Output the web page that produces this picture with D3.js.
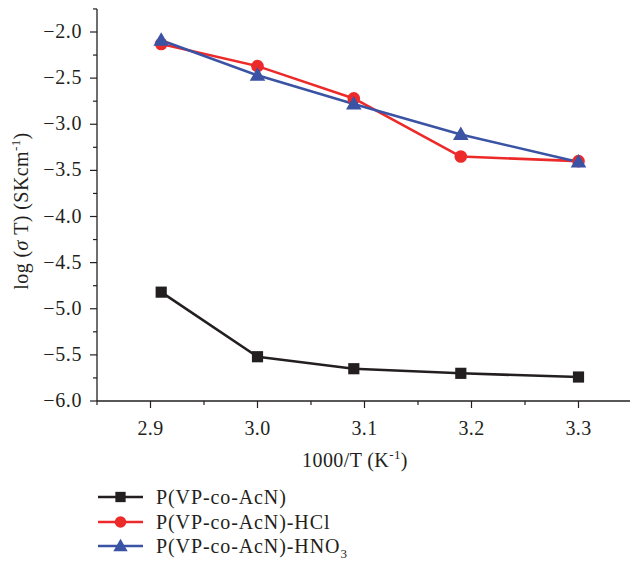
<!DOCTYPE html>
<html><head><meta charset="utf-8">
<script src="https://cdn.jsdelivr.net/npm/d3@7"></script>
<style>body{margin:0;background:#fff}svg{display:block}text{font-family:"Liberation Serif","Times New Roman",serif;fill:#231f20}</style>
</head><body><svg id="c" width="630" height="571"></svg>
<script>
const xValues = [2.91, 3.0, 3.09, 3.19, 3.3];
const pure = [-4.82, -5.52, -5.65, -5.70, -5.74];
const hcl = [-2.13, -2.37, -2.72, -3.35, -3.40];
const hno3 = [-2.09, -2.47, -2.78, -3.11, -3.41];
const xTicks = [2.9, 3.0, 3.1, 3.2, 3.3];
const yTicks = [-2.0, -2.5, -3.0, -3.5, -4.0, -4.5, -5.0, -5.5, -6.0];
const seriesNames = ["P(VP-co-AcN)", "P(VP-co-AcN)-HCl", "P(VP-co-AcN)-HNO"];
const colors = ["#231f20", "#ed2a2a", "#3a53a4"];
const symbols = [d3.symbolSquare, d3.symbolCircle, d3.symbolTriangle];
const symSizes = [125, 125, 105];

const FS = 20;
const svg = d3.select("#c");
const x = d3.scaleLinear().domain([2.85, 3.35]).range([97, 632]);
const y = d3.scaleLinear().domain([-6.0, -2.0]).range([401, 32]);

// axes
const gx = svg.append("g").attr("transform", "translate(0,401)");
gx.append("line").attr("x1", 97).attr("x2", 632).attr("stroke", "#231f20").attr("stroke-width", 1.3);
const minorX = d3.range(2.85, 3.351, 0.05).filter(v => Math.abs(Math.round(v*10)/10 - v) > 1e-6);
gx.selectAll(".mx").data(minorX).enter().append("line")
  .attr("x1", d => x(d)).attr("x2", d => x(d)).attr("y1", 0).attr("y2", 4)
  .attr("stroke", "#231f20").attr("stroke-width", 1.2);
gx.selectAll(".Mx").data(xTicks).enter().append("line")
  .attr("x1", d => x(d)).attr("x2", d => x(d)).attr("y1", 0).attr("y2", 7)
  .attr("stroke", "#231f20").attr("stroke-width", 1.2);
gx.selectAll(".tx").data(xTicks).enter().append("text")
  .attr("x", d => x(d)).attr("y", 34).attr("text-anchor", "middle")
  .attr("font-size", FS).attr("letter-spacing", 0.4).text(d => d.toFixed(1));

const gy = svg.append("g");
gy.append("line").attr("x1", 97).attr("x2", 97).attr("y1", 9).attr("y2", 401).attr("stroke", "#231f20").attr("stroke-width", 1.3);
const minorY = d3.range(-5.75, -1.7, 0.5);
gy.selectAll(".my").data(minorY).enter().append("line")
  .attr("x1", 93).attr("x2", 97).attr("y1", d => y(d)).attr("y2", d => y(d))
  .attr("stroke", "#231f20").attr("stroke-width", 1.2);
gy.selectAll(".My").data(yTicks).enter().append("line")
  .attr("x1", 90).attr("x2", 97).attr("y1", d => y(d)).attr("y2", d => y(d))
  .attr("stroke", "#231f20").attr("stroke-width", 1.2);
gy.selectAll(".ty").data(yTicks).enter().append("text")
  .attr("x", 82).attr("y", d => y(d) + 6).attr("text-anchor", "end")
  .attr("font-size", FS).attr("letter-spacing", 0.6).text(d => "\u2212" + Math.abs(d).toFixed(1));

// axis titles
const yl = svg.append("text").attr("transform", "translate(28,211) rotate(-90)")
  .attr("text-anchor", "middle").attr("font-size", FS).attr("letter-spacing", 0.4);
yl.append("tspan").text("log (");
yl.append("tspan").attr("font-style", "italic").text("σ");
yl.append("tspan").text(" T) (SKcm");
yl.append("tspan").attr("font-size", 13).attr("dy", -8).text("-1");
yl.append("tspan").attr("dy", 8).text(")");

const xl = svg.append("text").attr("x", 355).attr("y", 467).attr("text-anchor", "middle").attr("font-size", FS).attr("letter-spacing", 0.4);
xl.append("tspan").text("1000/T (K");
xl.append("tspan").attr("font-size", 13).attr("dy", -8).text("-1");
xl.append("tspan").attr("dy", 8).text(")");

// series
const all = [pure, hcl, hno3];
const line = d3.line().x((d, i) => x(xValues[i])).y(d => y(d));
all.forEach((vals, k) => {
  svg.append("path").attr("d", line(vals)).attr("fill", "none")
    .attr("stroke", colors[k]).attr("stroke-width", 2.6).attr("stroke-linejoin", "round");
});
all.forEach((vals, k) => {
  svg.selectAll(".pt" + k).data(vals).enter().append("path")
    .attr("d", d3.symbol().type(symbols[k]).size(symSizes[k]))
    .attr("transform", (d, i) => `translate(${x(xValues[i])},${y(d) + (k === 2 ? 1 : 0)})`)
    .attr("fill", colors[k]);
});

// legend
const ly = [497, 522, 546];
seriesNames.forEach((name, k) => {
  svg.append("line").attr("x1", 98).attr("x2", 143).attr("y1", ly[k]).attr("y2", ly[k])
    .attr("stroke", colors[k]).attr("stroke-width", 2.6);
  svg.append("path").attr("d", d3.symbol().type(symbols[k]).size(symSizes[k]*0.85))
    .attr("transform", `translate(120.5,${ly[k] + (k === 2 ? 1 : 0)})`).attr("fill", colors[k]);
  const t = svg.append("text").attr("x", 156).attr("y", ly[k] + 7).attr("font-size", FS).attr("letter-spacing", 0.9);
  t.append("tspan").text(name);
  if (k === 2) t.append("tspan").attr("font-size", 13).attr("dy", 5).text("3");
});
</script></body></html>
